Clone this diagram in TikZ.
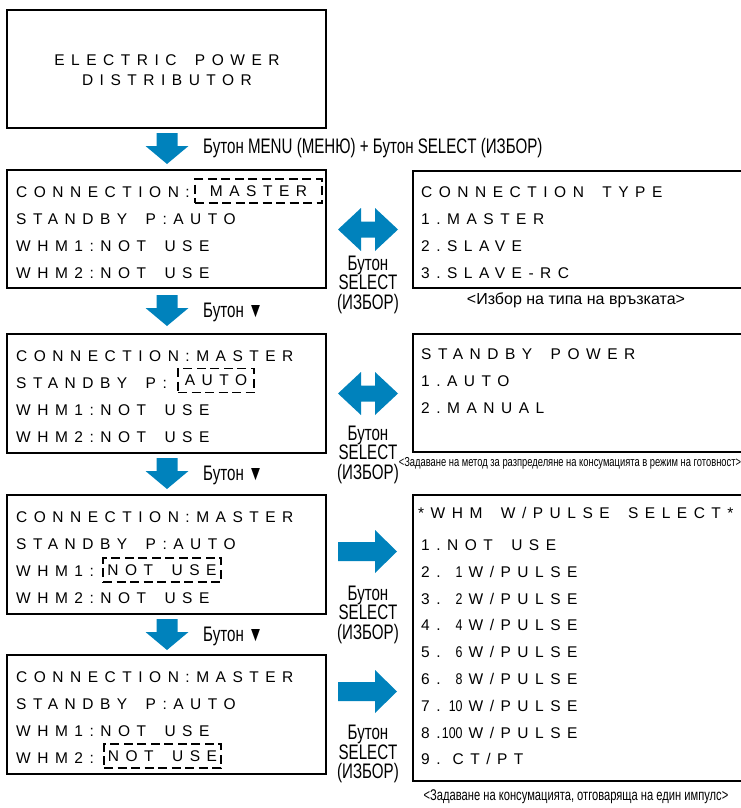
\documentclass[tikz,border=0pt]{standalone}
\usepackage{fontspec}
\setmainfont{Liberation Sans}
\newfontfamily\lcdfont[LetterSpace=42, WordSpace=1.7]{Liberation Sans}
\newfontfamily\condfont[FakeStretch=0.72]{Liberation Sans}
\newfontfamily\digfont[FakeStretch=0.8]{Liberation Sans}
\definecolor{keyblue}{RGB}{0, 130, 188}
\usetikzlibrary{positioning}

\tikzset{
  screen/.style={line width=2.4pt},
  lcd/.style={anchor=base west, inner sep=0pt, font=\lcdfont\fontsize{15.5}{19.5}\selectfont},
  selbox/.style={draw, line width=1.8pt, dash pattern=on 9pt off 4.5pt, inner sep=0pt,
    minimum height=24pt, font=\lcdfont\fontsize{15.5}{19.5}\selectfont},
  keylbl/.style={inner sep=0pt, font=\condfont\fontsize{21}{19.5}\selectfont},
  caption/.style={inner sep=0pt, font=\condfont\fontsize{15.5}{18}\selectfont},
  pics/downkey/.style={code={
    \fill[keyblue] (-10.5,0) -- (10.5,0) -- (10.5,13) -- (21.5,13) -- (0,31)
      -- (-21.5,13) -- (-10.5,13) -- cycle;}},
  pics/rightkey/.style={code={
    \fill[keyblue] (0,-9.5) -- (37,-9.5) -- (37,-21.5) -- (59,0) -- (37,21.5)
      -- (37,9.5) -- (0,9.5) -- cycle;}},
  pics/bothkey/.style={code={
    \fill[keyblue] (-30,0) -- (-7,-21.5) -- (-7,-8) -- (7,-8) -- (7,-21.5) -- (30,0)
      -- (7,21.5) -- (7,8) -- (-7,8) -- (-7,21.5) -- cycle;}},
}
\newcommand{\dg}[1]{\makebox[22pt][r]{\digfont #1}\hspace{6pt}}

\begin{document}
\begin{tikzpicture}[x=1pt, y=-1pt]
  \useasboundingbox (0,0) rectangle (740,808);

  % Start screen
  \draw[screen] (7,10) rectangle (326,128);
  \node[lcd, anchor=center, align=center] (title) at (167,70) {ELECTRIC POWER\\DISTRIBUTOR};

  \pic at (167,133) {downkey};
  \node[keylbl, anchor=west] (menukey) at (203,148) {Бутон MENU (МЕНЮ) + Бутон SELECT (ИЗБОР)};

  % Screen 1: connection
  \draw[screen] (7,170) rectangle (326,288);
  \node[lcd] (conA) at (16,197) {CONNECTION:};
  \node[selbox, minimum width=127pt] (conAsel) at (258.5,191) {MASTER};
  \node[lcd] (stbA) at (16,224) {STANDBY P:AUTO};
  \node[lcd] (whmAa) at (16,251) {WHM1:NOT USE};
  \node[lcd] (whmAb) at (16,278) {WHM2:NOT USE};

  \draw[screen] (745,171) -| (413,288) -- (745,288);
  \node[lcd] (typeH) at (421,197) {CONNECTION TYPE};
  \node[lcd] (typeA) at (421,224) {1.MASTER};
  \node[lcd] (typeB) at (421,251) {2.SLAVE};
  \node[lcd] (typeC) at (421,278) {3.SLAVE-RC};
  \node[caption, font=\normalfont\fontsize{16}{18}\selectfont] (typecap) at (576,300)
    {<Избор на типа на връзката>};

  \pic at (368,229.5) {bothkey};
  \node[keylbl, align=center] (selA) at (368,284.5) {Бутон\\SELECT\\(ИЗБОР)};
  \pic at (167,295) {downkey};
  \node[keylbl, anchor=west] (downA) at (203,312) {Бутон ▼};

  % Screen 2: standby power
  \draw[screen] (7,334) rectangle (326,453);
  \node[lcd] (conB) at (16,361) {CONNECTION:MASTER};
  \node[lcd] (stbB) at (16,388) {STANDBY P:};
  \node[selbox, minimum width=76pt] (stbBsel) at (216,380.5) {AUTO};
  \node[lcd] (whmBa) at (16,415) {WHM1:NOT USE};
  \node[lcd] (whmBb) at (16,442) {WHM2:NOT USE};

  \draw[screen] (745,334) -| (413,452) -- (745,452);
  \node[lcd] (stdH) at (421,359) {STANDBY POWER};
  \node[lcd] (stdA) at (421,386) {1.AUTO};
  \node[lcd] (stdB) at (421,413) {2.MANUAL};
  \node[caption, font=\condfont\fontsize{13}{15}\selectfont] (stdcap) at (570,463)
    {<Задаване на метод за разпределяне на консумацията в режим на готовност>};

  \pic at (368,393.5) {bothkey};
  \node[keylbl, align=center] (selB) at (368,454.5) {Бутон\\SELECT\\(ИЗБОР)};
  \pic at (167,458) {downkey};
  \node[keylbl, anchor=west] (downB) at (203,475) {Бутон ▼};

  % Screen 3: WHM1 pulse
  \draw[screen] (7,495) rectangle (326,614);
  \node[lcd] (conC) at (16,522) {CONNECTION:MASTER};
  \node[lcd] (stbC) at (16,549) {STANDBY P:AUTO};
  \node[lcd] (whmCa) at (16,576) {WHM1:};
  \node[selbox, minimum width=118pt] (whmCsel) at (162,570) {NOT USE};
  \node[lcd] (whmCb) at (16,603) {WHM2:NOT USE};

  \draw[screen] (745,495) -| (413,781) -- (745,781);
  \node[lcd] (pulH) at (418,518) {*WHM W/PULSE SELECT*};
  \node[lcd] (pul1) at (421,550.5) {1.NOT USE};
  \node[lcd] (pul2) at (421,577.3) {2.\dg{1}W/PULSE};
  \node[lcd] (pul3) at (421,604.1) {3.\dg{2}W/PULSE};
  \node[lcd] (pul4) at (421,630.9) {4.\dg{4}W/PULSE};
  \node[lcd] (pul5) at (421,657.7) {5.\dg{6}W/PULSE};
  \node[lcd] (pul6) at (421,684.5) {6.\dg{8}W/PULSE};
  \node[lcd] (pul7) at (421,711.3) {7.\dg{10}W/PULSE};
  \node[lcd] (pul8) at (421,738.1) {8.\dg{100}W/PULSE};
  \node[lcd] (pul9) at (421,764.9) {9.\hspace{12pt}CT/PT};
  \node[caption] (pulcap) at (576,797) {<Задаване на консумацията, отговаряща на един импулс>};

  \pic at (338,551.5) {rightkey};
  \node[keylbl, align=center] (selC) at (368,614.5) {Бутон\\SELECT\\(ИЗБОР)};
  \pic at (167,619) {downkey};
  \node[keylbl, anchor=west] (downC) at (203,636) {Бутон ▼};

  % Screen 4: WHM2 pulse
  \draw[screen] (7,655) rectangle (326,774);
  \node[lcd] (conD) at (16,682) {CONNECTION:MASTER};
  \node[lcd] (stbD) at (16,709) {STANDBY P:AUTO};
  \node[lcd] (whmDa) at (16,736) {WHM1:NOT USE};
  \node[lcd] (whmDb) at (16,763) {WHM2:};
  \node[selbox, minimum width=117pt] (whmDsel) at (162.5,756) {NOT USE};

  \pic at (338,691.5) {rightkey};
  \node[keylbl, align=center] (selD) at (368,754) {Бутон\\SELECT\\(ИЗБОР)};
\end{tikzpicture}
\end{document}
